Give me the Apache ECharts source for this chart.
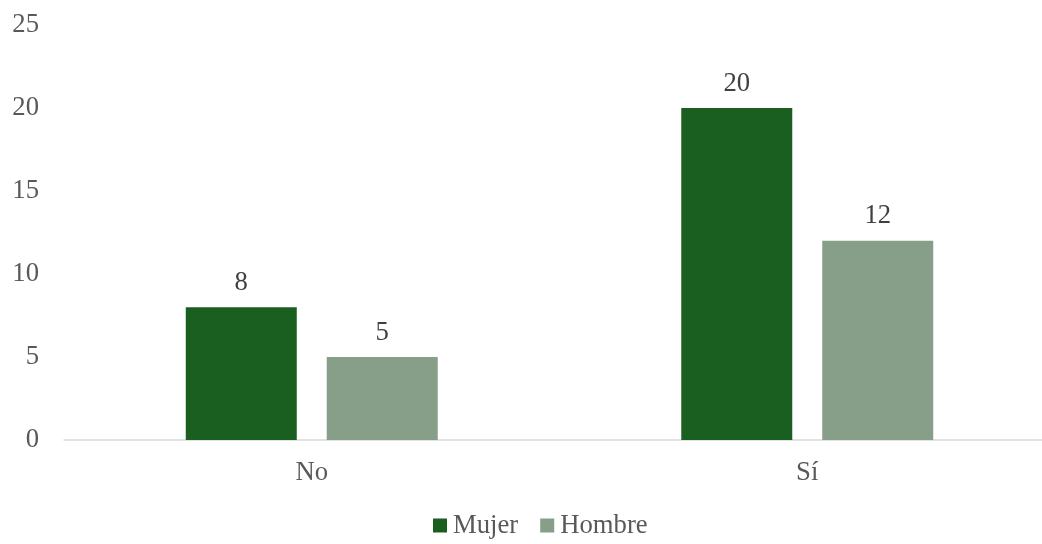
<!DOCTYPE html>
<html>
<head>
<meta charset="utf-8">
<script src="https://cdn.jsdelivr.net/npm/echarts@6/dist/echarts.min.js"></script>
<style>html,body{margin:0;padding:0;background:#fff;overflow:hidden;width:1042px;height:544px}#c{width:1055px;height:544px}</style>
</head>
<body>
<div id="c"></div>
<script>
const categories = ['No', 'Sí'];
const seriesNames = ['Mujer', 'Hombre'];
const mujer = [8, 20];
const hombre = [5, 12];
const yTicks = [0, 5, 10, 15, 20, 25];

const FONT = "'Liberation Serif', 'Times New Roman', serif";
const FS = 26.7;
const chart = echarts.init(document.getElementById('c'), null, {renderer: 'canvas'});
chart.setOption({
  animation: false,
  backgroundColor: '#ffffff',
  textStyle: {fontFamily: FONT},
  grid: {left: 64, top: 25, right: 0, bottom: 104, containLabel: false},
  legend: {
    data: seriesNames,
    left: 433, top: 512, padding: 0,
    icon: 'rect', itemWidth: 14, itemHeight: 14, itemGap: 22,
    textStyle: {fontFamily: FONT, fontSize: FS, color: '#595959', padding: [0, 0, 0, 1]}
  },
  xAxis: {
    type: 'category', data: categories,
    axisLine: {lineStyle: {color: '#d9d9d9', width: 1.5}},
    axisTick: {show: false},
    axisLabel: {fontFamily: FONT, fontSize: FS, color: '#595959', margin: 19}
  },
  yAxis: {
    type: 'value', min: yTicks[0], max: yTicks[yTicks.length - 1], interval: 5,
    axisLine: {show: false}, axisTick: {show: false}, splitLine: {show: false},
    axisLabel: {fontFamily: FONT, fontSize: FS, color: '#595959', margin: 25}
  },
  series: [
    {name: seriesNames[0], type: 'bar', data: mujer, barWidth: 111, barGap: '27%',
     itemStyle: {color: '#1a5e20'},
     label: {show: true, position: 'top', distance: 11, fontFamily: FONT, fontSize: FS, color: '#404040'}},
    {name: seriesNames[1], type: 'bar', data: hombre, barWidth: 111, barGap: '27%',
     itemStyle: {color: '#879e88'},
     label: {show: true, position: 'top', distance: 11, fontFamily: FONT, fontSize: FS, color: '#404040'}}
  ]
});
</script>
</body>
</html>
